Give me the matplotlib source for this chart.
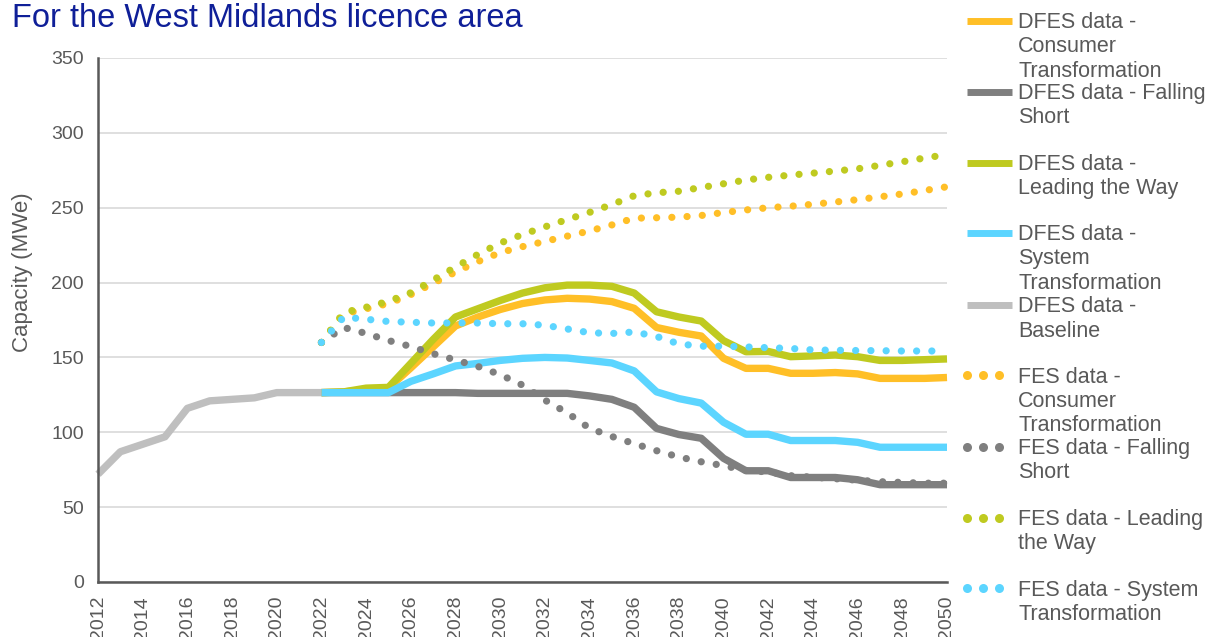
#!/usr/bin/env python3
"""West Midlands licence area capacity: DFES vs FES scenarios."""

import matplotlib
matplotlib.use("Agg")
import matplotlib.pyplot as plt
from matplotlib.lines import Line2D

plt.rcParams["font.family"] = ["Liberation Sans", "DejaVu Sans"]

# ---- data (MWe) ----
base_years = list(range(2012, 2023))
baseline = [72, 87, 92, 97, 116, 121, 122, 123, 126.5, 126.5, 126.5]

years = list(range(2022, 2051))
dfes_consumer = [126.5, 127, 128.5, 129.5, 143, 157, 171, 177, 182, 186, 188.4, 189.5, 189, 187.3,
                 182.8, 170, 166.8, 164.3, 149.4, 142.7, 142.7, 139.4, 139.4, 139.9, 139, 136, 136, 136, 136.6]
dfes_falling = [126.5, 126.5, 126.5, 126.5, 126.5, 126.5, 126.5, 126, 126, 126, 126, 126, 124.3, 122,
                116.7, 102.6, 98.5, 96, 82.6, 74.3, 74.3, 69.8, 69.8, 69.8, 68.3, 65, 65, 65, 65]
dfes_leading = [126.5, 127, 129.5, 130, 146, 162, 177, 182.5, 188, 193, 196.5, 198.3, 198.3, 197.5,
                193, 180.5, 177, 174.3, 161.2, 153.8, 154, 150.5, 151, 151.6, 150.5, 148, 148, 148.5, 149]
dfes_system = [126.5, 126.5, 126.5, 126.5, 134, 139, 144.3, 146, 148, 149.4, 150, 149.6, 148, 146.3,
               141, 127, 122.5, 119.5, 106.7, 98.7, 98.7, 94.5, 94.5, 94.5, 93.3, 90, 90, 90, 90]

fes_consumer = [160, 179, 182.5, 186, 192, 199.5, 207, 214, 220, 224, 227.5, 231, 234.5, 238.5,
                243, 243.3, 243.7, 244.8, 246.8, 248.5, 250, 251, 252.3, 253.8, 255.4, 257.3, 259.2, 261.5, 264]
fes_falling = [160, 170, 166, 161.3, 157.3, 152.5, 148.3, 144, 138.5, 131.5, 121.5, 113, 102.7, 97.2,
               92.4, 87.7, 83.5, 80.3, 77.7, 74.5, 73.5, 71, 70, 69, 68, 67, 66.5, 66, 66]
fes_leading = [160, 180, 183.5, 187.5, 193.2, 201.7, 210.4, 218.8, 226.4, 232.1, 237.2, 242.1, 246.9, 252.1,
               258, 260, 261, 263.5, 266, 268.5, 270.3, 271.8, 273.1, 274.5, 276, 278.3, 280.7, 283.2, 285.5]
fes_system = [160, 177, 175.5, 174, 173.5, 173, 173, 173, 172.5, 172.5, 171.5, 169, 166.5, 166,
              167, 164, 159, 157.5, 157.5, 157, 156.5, 156, 155, 154.8, 154.6, 154.5, 154.3, 154.3, 154.3]

ORANGE = "#FFBF27"
DGREY = "#7F7F7F"
GREEN = "#BFCA20"
CYAN = "#5CD5FF"
LGREY = "#BFBFBF"
TEXT = "#595959"

W, H = 1215, 637
fig = plt.figure(figsize=(W / 100, H / 100), dpi=100)
ax = fig.add_axes([98 / W, 1 - 582 / H, (947 - 98) / W, (582 - 58) / H])

LW = 5.3
DOT = (0, (0.01, 2.1))
solid = dict(lw=LW, solid_capstyle="butt", solid_joinstyle="round", clip_on=False)
dotted = dict(lw=5.2, linestyle=DOT, dash_capstyle="round", clip_on=False)

ax.plot(years, dfes_consumer, color=ORANGE, **solid)
ax.plot(years, dfes_falling, color=DGREY, **solid)
ax.plot(years, dfes_leading, color=GREEN, **solid)
ax.plot(years, dfes_system, color=CYAN, **solid)
ax.plot(base_years, baseline, color=LGREY, **solid)
ax.plot(years, fes_consumer, color=ORANGE, **dotted)
ax.plot(years, fes_falling, color=DGREY, **dotted)
ax.plot(years, fes_leading, color=GREEN, **dotted)
ax.plot(years, fes_system, color=CYAN, **dotted)

ax.set_xlim(2012, 2050)
ax.set_ylim(0, 350)
ax.set_yticks(range(0, 351, 50))
ax.set_xticks(range(2012, 2051, 2))
ax.set_xticklabels([str(y) for y in range(2012, 2051, 2)], rotation=90)
ax.tick_params(axis="both", length=0, labelsize=14, labelcolor=TEXT)
ax.tick_params(axis="x", pad=10)
ax.tick_params(axis="y", pad=10)
ax.grid(axis="y", color="#D9D9D9", lw=1.2)
ax.set_axisbelow(True)
for s in ("top", "right"):
    ax.spines[s].set_visible(False)
for s in ("left", "bottom"):
    ax.spines[s].set_color(TEXT)
    ax.spines[s].set_linewidth(1.8)

fig.text(12 / W, 1 - 27 / H, "For the West Midlands licence area", fontsize=23.5,
         color="#0F1F98", va="baseline", ha="left")
fig.text(23 / W, 1 - 272 / H, "Capacity (MWe)", fontsize=16, color=TEXT,
         rotation=90, ha="center", va="center")

# ---- legend, drawn by hand so the entries sit on an even pitch ----
entries = [
    ("DFES data -\nConsumer\nTransformation", ORANGE, "solid", 20.7),
    ("DFES data - Falling\nShort", DGREY, "solid", 91.7),
    ("DFES data -\nLeading the Way", GREEN, "solid", 162.7),
    ("DFES data -\nSystem\nTransformation", CYAN, "solid", 232.7),
    ("DFES data -\nBaseline", LGREY, "solid", 305),
    ("FES data -\nConsumer\nTransformation", ORANGE, "dot", 375),
    ("FES data - Falling\nShort", DGREY, "dot", 446.7),
    ("FES data - Leading\nthe Way", GREEN, "dot", 517.7),
    ("FES data - System\nTransformation", CYAN, "dot", 588.3),
]
for label, color, kind, ypx in entries:
    yf = 1 - ypx / H
    if kind == "solid":
        fig.add_artist(Line2D([967 / W, 1012 / W], [yf, yf], color=color, lw=5,
                              solid_capstyle="butt", transform=fig.transFigure))
    else:
        fig.add_artist(Line2D([967 / W, 983 / W, 999 / W], [yf, yf, yf], color=color,
                              lw=0, marker="o", markersize=6.5, markeredgewidth=0,
                              transform=fig.transFigure))
    fig.text(1018 / W, 1 - (ypx - 8.5) / H, label, fontsize=15.5, color=TEXT,
             ha="left", va="top", linespacing=1.2)

fig.savefig("out.png", dpi=100)
